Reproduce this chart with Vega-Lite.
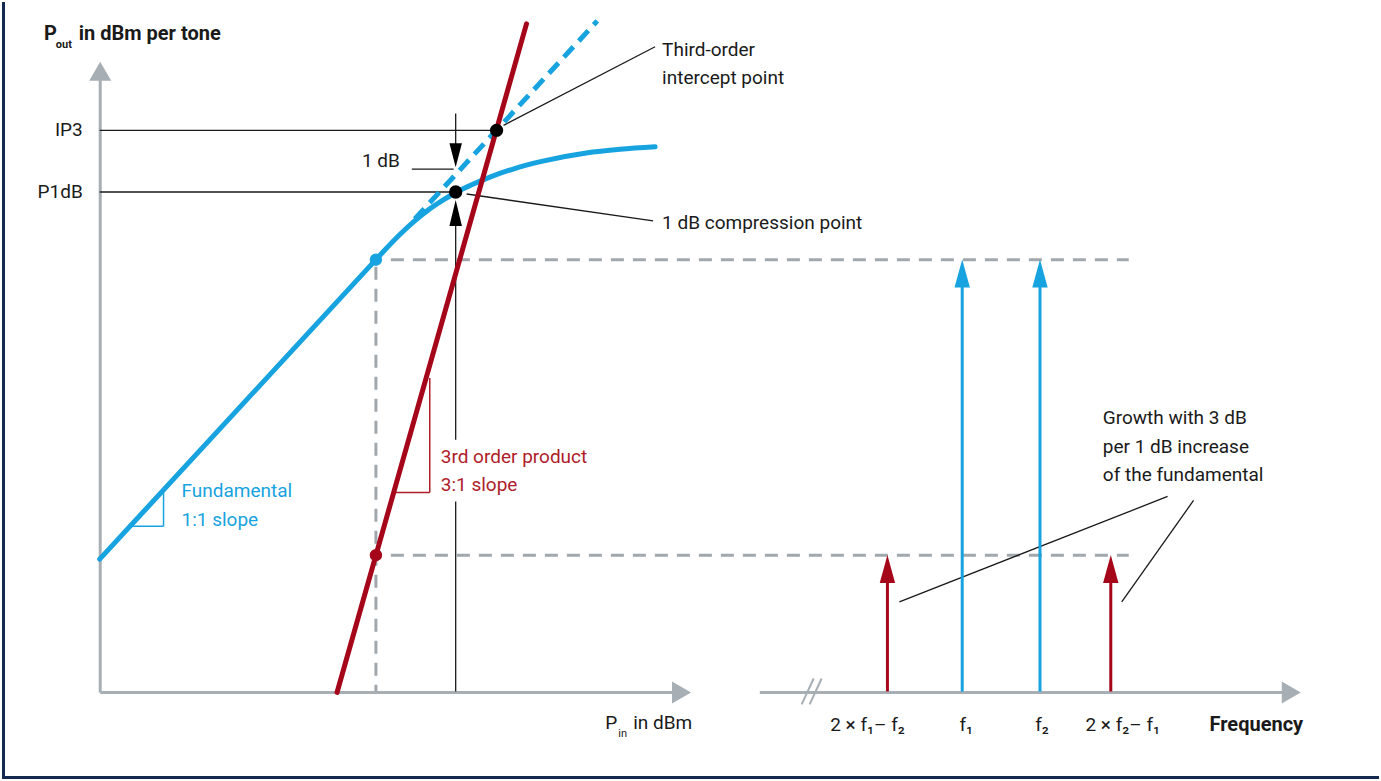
{
  "$schema": "https://vega.github.io/schema/vega-lite/v6.json",
  "width": 1381,
  "height": 781,
  "autosize": {"type": "fit", "contains": "padding"},
  "padding": 0,
  "background": "white",
  "config": {"view": {"stroke": null}, "text": {"font": "Roboto"}},
  "datasets": {
    "border": [
      {"x": -96.5, "y": -88, "x2": -96.5, "y2": 693},
      {"x": -98, "y": -86.5, "x2": 1283, "y2": -86.5}
    ],
    "grayAxes": [
      {"x": 0.5, "y": -1, "x2": 0.5, "y2": 616},
      {"x": 0.5, "y": -1, "x2": 576, "y2": -1},
      {"x": 662, "y": -1, "x2": 1188, "y2": -1}
    ],
    "grayBreak": [
      {"x": 704, "y": -13, "x2": 716, "y2": 13},
      {"x": 712, "y": -13, "x2": 724, "y2": 13}
    ],
    "headUpGray": [{"x": 0.5, "y": 623.5}],
    "headRightGray": [{"x": 583.5, "y": -1}, {"x": 1195, "y": -1}],
    "grayDash": [
      {"x": 277, "y": 427, "x2": 277, "y2": 0},
      {"x": 292, "y": 434, "x2": 1032, "y2": 434},
      {"x": 292, "y": 137, "x2": 1032, "y2": 137}
    ],
    "blueCurve": [
      {"x": 0, "y": 133}, {"x": 277, "y": 434}, {"x": 285, "y": 442.7},
      {"x": 300, "y": 458.3}, {"x": 315, "y": 472.3}, {"x": 330, "y": 484.3},
      {"x": 345, "y": 494.3}, {"x": 357, "y": 501.5}, {"x": 372, "y": 508.8},
      {"x": 392, "y": 517.2}, {"x": 416, "y": 525.6}, {"x": 442, "y": 532.6},
      {"x": 488, "y": 541.3}, {"x": 522, "y": 545}, {"x": 557, "y": 547.5}
    ],
    "blueDashLine": [{"x": 316, "y": 475, "x2": 499, "y2": 674}],
    "redLine": [{"x": 238, "y": -1, "x2": 428, "y2": 671}],
    "blueThin": [
      {"x": 32, "y": 166, "x2": 64, "y2": 166},
      {"x": 64, "y": 166, "x2": 64, "y2": 200}
    ],
    "redThin": [
      {"x": 297, "y": 200, "x2": 331, "y2": 200},
      {"x": 331, "y": 200, "x2": 331, "y2": 315}
    ],
    "blackRules": [
      {"x": 0, "y": 564, "x2": 398, "y2": 564},
      {"x": 0, "y": 502, "x2": 357, "y2": 502},
      {"x": 313, "y": 525, "x2": 355, "y2": 525},
      {"x": 357, "y": 581, "x2": 357, "y2": 550},
      {"x": 357, "y": 470, "x2": 357, "y2": 253},
      {"x": 357, "y": 191, "x2": 357, "y2": 0},
      {"x": 405, "y": 569, "x2": 557, "y2": 648},
      {"x": 368, "y": 500, "x2": 555, "y2": 473},
      {"x": 802, "y": 90, "x2": 1071, "y2": 196},
      {"x": 1097, "y": 192, "x2": 1025, "y2": 90}
    ],
    "headDownBlack": [{"x": 357, "y": 539}],
    "headUpBlack": [{"x": 357, "y": 481}],
    "redStems": [
      {"x": 790, "y": 0, "x2": 790, "y2": 112},
      {"x": 1014, "y": 0, "x2": 1014, "y2": 112}
    ],
    "blueStems": [
      {"x": 865, "y": 0, "x2": 865, "y2": 408},
      {"x": 943, "y": 0, "x2": 943, "y2": 408}
    ],
    "redHeads": [{"x": 790, "y": 123}, {"x": 1014, "y": 123}],
    "blueHeads": [{"x": 865, "y": 420}, {"x": 943, "y": 420}],
    "blackDots": [{"x": 398, "y": 564}, {"x": 357, "y": 502}],
    "blueDot": [{"x": 277, "y": 434}],
    "redDot": [{"x": 277, "y": 137}],
    "textLeft": [
      {"x": 564, "y": 645, "t": "Third-order"},
      {"x": 564, "y": 617, "t": "intercept point"},
      {"x": 564, "y": 471, "t": "1 dB compression point"},
      {"x": 263, "y": 533, "t": "1 dB"},
      {"x": 1006, "y": 275, "t": "Growth with 3 dB"},
      {"x": 1006, "y": 246, "t": "per 1 dB increase"},
      {"x": 1006, "y": 218, "t": "of the fundamental"},
      {"x": 507, "y": -32, "t": "P"},
      {"x": 535, "y": -32, "t": "in dBm"}
    ],
    "textSub": [{"x": 520, "y": -43, "t": "in"}],
    "textRight": [
      {"x": -17, "y": 564, "t": "IP3"},
      {"x": -17, "y": 502, "t": "P1dB"}
    ],
    "textCenter": [
      {"x": 770, "y": -34, "t": "2 × f₁– f₂"},
      {"x": 869, "y": -34, "t": "f₁"},
      {"x": 945, "y": -34, "t": "f₂"},
      {"x": 1026, "y": -34, "t": "2 × f₂– f₁"}
    ],
    "textBold": [
      {"x": -56, "y": 661, "t": "P"},
      {"x": -21, "y": 661, "t": "in dBm per tone"},
      {"x": 1113, "y": -34, "t": "Frequency"}
    ],
    "textBoldSub": [{"x": -44, "y": 650, "t": "out"}],
    "textBlue": [
      {"x": 82, "y": 201, "t": "Fundamental"},
      {"x": 82, "y": 172, "t": "1:1 slope"}
    ],
    "textRed": [
      {"x": 342, "y": 236, "t": "3rd order product"},
      {"x": 342, "y": 208, "t": "3:1 slope"}
    ]
  },
  "encoding": {
    "x": {"field": "x", "type": "quantitative", "scale": {"domain": [-98, 1283], "nice": false, "zero": false}, "axis": null},
    "y": {"field": "y", "type": "quantitative", "scale": {"domain": [-88, 693], "nice": false, "zero": false}, "axis": null}
  },
  "layer": [
    {"data": {"name": "border"}, "mark": {"type": "rule", "color": "#14294f", "strokeWidth": 3}, "encoding": {"x2": {"field": "x2"}, "y2": {"field": "y2"}}},
    {"data": {"name": "grayAxes"}, "mark": {"type": "rule", "color": "#a7aeb4", "strokeWidth": 3}, "encoding": {"x2": {"field": "x2"}, "y2": {"field": "y2"}}},
    {"data": {"name": "grayBreak"}, "mark": {"type": "rule", "color": "#a7aeb4", "strokeWidth": 2}, "encoding": {"x2": {"field": "x2"}, "y2": {"field": "y2"}}},
    {"data": {"name": "headUpGray"}, "mark": {"type": "point", "shape": "M0,-1L-1.16,1L1.16,1Z", "size": 361, "filled": true, "color": "#a7aeb4", "opacity": 1, "strokeWidth": 0}},
    {"data": {"name": "headRightGray"}, "mark": {"type": "point", "shape": "M1,0L-1,-1.16L-1,1.16Z", "size": 361, "filled": true, "color": "#a7aeb4", "opacity": 1, "strokeWidth": 0}},
    {"data": {"name": "grayDash"}, "mark": {"type": "rule", "color": "#a0a7ad", "strokeWidth": 3, "strokeDash": [13, 9]}, "encoding": {"x2": {"field": "x2"}, "y2": {"field": "y2"}}},
    {"data": {"name": "blackRules"}, "mark": {"type": "rule", "color": "#1a1a1a", "strokeWidth": 1.3}, "encoding": {"x2": {"field": "x2"}, "y2": {"field": "y2"}}},
    {"data": {"name": "blueThin"}, "mark": {"type": "rule", "color": "#17a3df", "strokeWidth": 1.5}, "encoding": {"x2": {"field": "x2"}, "y2": {"field": "y2"}}},
    {"data": {"name": "redThin"}, "mark": {"type": "rule", "color": "#b01c2a", "strokeWidth": 1.5}, "encoding": {"x2": {"field": "x2"}, "y2": {"field": "y2"}}},
    {"data": {"name": "blueDashLine"}, "mark": {"type": "rule", "color": "#17a3df", "strokeWidth": 5, "strokeDash": [14, 8]}, "encoding": {"x2": {"field": "x2"}, "y2": {"field": "y2"}}},
    {"data": {"name": "blueCurve"}, "mark": {"type": "line", "color": "#17a3df", "strokeWidth": 5, "interpolate": "monotone", "strokeCap": "round"}},
    {"data": {"name": "redLine"}, "mark": {"type": "rule", "color": "#a6061a", "strokeWidth": 5, "strokeCap": "round"}, "encoding": {"x2": {"field": "x2"}, "y2": {"field": "y2"}}},
    {"data": {"name": "redStems"}, "mark": {"type": "rule", "color": "#a6061a", "strokeWidth": 3}, "encoding": {"x2": {"field": "x2"}, "y2": {"field": "y2"}}},
    {"data": {"name": "blueStems"}, "mark": {"type": "rule", "color": "#17a3df", "strokeWidth": 3}, "encoding": {"x2": {"field": "x2"}, "y2": {"field": "y2"}}},
    {"data": {"name": "redHeads"}, "mark": {"type": "point", "shape": "M0,-1L-0.55,1L0.55,1Z", "size": 784, "filled": true, "color": "#a6061a", "opacity": 1, "strokeWidth": 0}},
    {"data": {"name": "blueHeads"}, "mark": {"type": "point", "shape": "M0,-1L-0.55,1L0.55,1Z", "size": 784, "filled": true, "color": "#17a3df", "opacity": 1, "strokeWidth": 0}},
    {"data": {"name": "headDownBlack"}, "mark": {"type": "point", "shape": "M0,1L-0.52,-1L0.52,-1Z", "size": 576, "filled": true, "color": "#000000", "opacity": 1, "strokeWidth": 0}},
    {"data": {"name": "headUpBlack"}, "mark": {"type": "point", "shape": "M0,-1L-0.48,1L0.48,1Z", "size": 676, "filled": true, "color": "#000000", "opacity": 1, "strokeWidth": 0}},
    {"data": {"name": "blackDots"}, "mark": {"type": "circle", "size": 177, "color": "#000000", "opacity": 1}},
    {"data": {"name": "blueDot"}, "mark": {"type": "circle", "size": 154, "color": "#17a3df", "opacity": 1}},
    {"data": {"name": "redDot"}, "mark": {"type": "circle", "size": 154, "color": "#a6061a", "opacity": 1}},
    {"data": {"name": "textLeft"}, "mark": {"type": "text", "align": "left", "baseline": "middle", "fontSize": 19, "color": "#1a1a1a"}, "encoding": {"text": {"field": "t"}}},
    {"data": {"name": "textSub"}, "mark": {"type": "text", "align": "left", "baseline": "middle", "fontSize": 11, "color": "#1a1a1a"}, "encoding": {"text": {"field": "t"}}},
    {"data": {"name": "textRight"}, "mark": {"type": "text", "align": "right", "baseline": "middle", "fontSize": 19, "color": "#1a1a1a"}, "encoding": {"text": {"field": "t"}}},
    {"data": {"name": "textCenter"}, "mark": {"type": "text", "align": "center", "baseline": "middle", "fontSize": 19, "color": "#1a1a1a"}, "encoding": {"text": {"field": "t"}}},
    {"data": {"name": "textBold"}, "mark": {"type": "text", "align": "left", "baseline": "middle", "fontSize": 20, "fontWeight": "bold", "color": "#1a1a1a"}, "encoding": {"text": {"field": "t"}}},
    {"data": {"name": "textBoldSub"}, "mark": {"type": "text", "align": "left", "baseline": "middle", "fontSize": 11, "fontWeight": "bold", "color": "#1a1a1a"}, "encoding": {"text": {"field": "t"}}},
    {"data": {"name": "textBlue"}, "mark": {"type": "text", "align": "left", "baseline": "middle", "fontSize": 19, "color": "#17a3df"}, "encoding": {"text": {"field": "t"}}},
    {"data": {"name": "textRed"}, "mark": {"type": "text", "align": "left", "baseline": "middle", "fontSize": 19, "color": "#b01c2a"}, "encoding": {"text": {"field": "t"}}}
  ]
}
